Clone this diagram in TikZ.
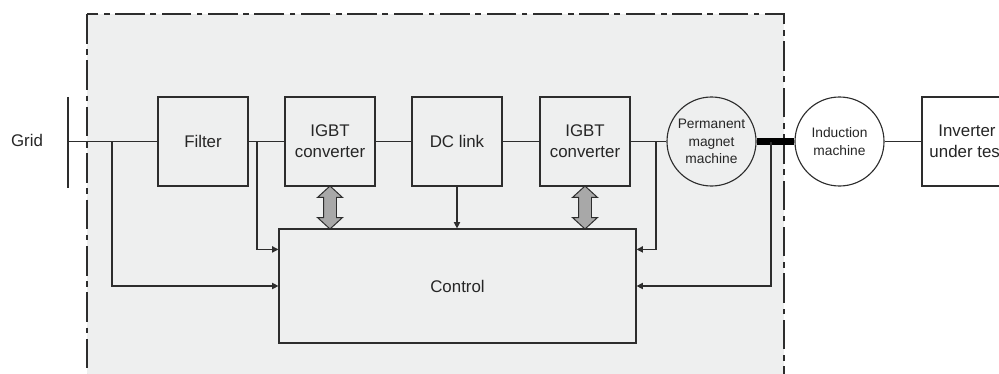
\documentclass[tikz,border=0pt]{standalone}
\usepackage{fontspec}
\setmainfont{Liberation Sans}
\usepackage{tikz}
\usetikzlibrary{arrows.meta,positioning,shapes.arrows,calc}

\definecolor{panelgray}{RGB}{238,239,239}
\definecolor{linegray}{RGB}{45,45,45}
\definecolor{arrowgray}{RGB}{168,168,168}

\begin{document}
\begin{tikzpicture}[
    x=0.025cm, y=-0.025cm,
    >={Triangle[length=4.5pt,width=4.5pt]},
    wire/.style={draw=linegray, line width=0.8pt},
    block/.style={
        rectangle,
        draw=linegray,
        line width=0.8pt,
        fill=panelgray,
        minimum width=2.25cm,
        minimum height=2.225cm,
        inner sep=1pt,
        font=\fontsize{12}{15}\selectfont,
        text=black!85,
        align=center
    },
    machine/.style={
        circle,
        draw=linegray,
        line width=0.8pt,
        fill=#1,
        minimum size=2.225cm,
        inner sep=0pt,
        font=\fontsize{9.8}{12.4}\selectfont,
        text=black!85,
        align=center
    },
    tap/.style={
        ->,
        wire
    },
    dblarrow/.style={
        double arrow,
        shape border rotate=90,
        draw=linegray,
        fill=arrowgray,
        line width=0.7pt,
        minimum height=1.075cm,
        minimum width=0pt,
        inner xsep=0.15cm,
        inner ysep=0pt,
        double arrow head extend=0.15cm,
        double arrow tip angle=95
    }
]
\useasboundingbox (0,0) rectangle (999,374);

% Test bench area
\path[fill=panelgray, draw=linegray, line width=0.9pt,
      dash pattern=on 21pt off 4pt on 4pt off 4pt]
    (87,14) rectangle (784,390);

% Grid bus bar
\node[font=\fontsize{12}{15}\selectfont, text=black!85] (grid) at (27,140) {Grid};
\coordinate (bustop) at (68,97);
\coordinate (busbot) at (68,188);
\draw[wire] (bustop) -- (busbot);

% Power chain
\node[block] (filter) at (203,141.5) {Filter};
\node[block] (igbta) at (330,141.5) {IGBT\\converter};
\node[block] (dclink) at (457,141.5) {DC link};
\node[block] (igbtb) at (585,141.5) {IGBT\\converter};
\node[machine=panelgray] (pmm) at (711.5,141.5) {Permanent\\magnet\\machine};
\node[machine=white] (im) at (839.5,141.5) {Induction\\machine};
\node[block, fill=white] (iut) at (967,141.5) {Inverter\\under test};

\node[block, minimum width=8.925cm, minimum height=2.85cm] (ctrl) at (457.5,286) {Control};

\draw[wire] (bustop |- filter) -- (filter);
\draw[wire] (filter) -- (igbta);
\draw[wire] (igbta) -- (dclink);
\draw[wire] (dclink) -- (igbtb);
\draw[wire] (igbtb) -- (pmm);
\draw[line width=4.5pt] (pmm) -- (im);
\draw[wire] (im) -- (iut);

% Measurement taps
\coordinate (tapa) at (112,141.5);
\coordinate (tapb) at (257,141.5);
\coordinate (tapc) at (656,141.5);
\coordinate (tapd) at (771,141.5);
\coordinate (ctrlwl) at ($(ctrl.north west)+(0,21)$);
\coordinate (ctrlel) at ($(ctrl.north east)+(0,21)$);

\draw[tap] (tapa) |- (ctrl.west);
\draw[tap] (tapb) |- (ctrlwl);
\draw[tap] (tapc) |- (ctrlel);
\draw[tap] (tapd) |- (ctrl.east);
\draw[tap] (dclink.south) -- (dclink.south |- ctrl.north);

% Gate signals
\node[dblarrow] (gatea) at ($(igbta.south)!0.5!(igbta.south |- ctrl.north)$) {};
\node[dblarrow] (gateb) at ($(igbtb.south)!0.5!(igbtb.south |- ctrl.north)$) {};

\end{tikzpicture}
\end{document}
